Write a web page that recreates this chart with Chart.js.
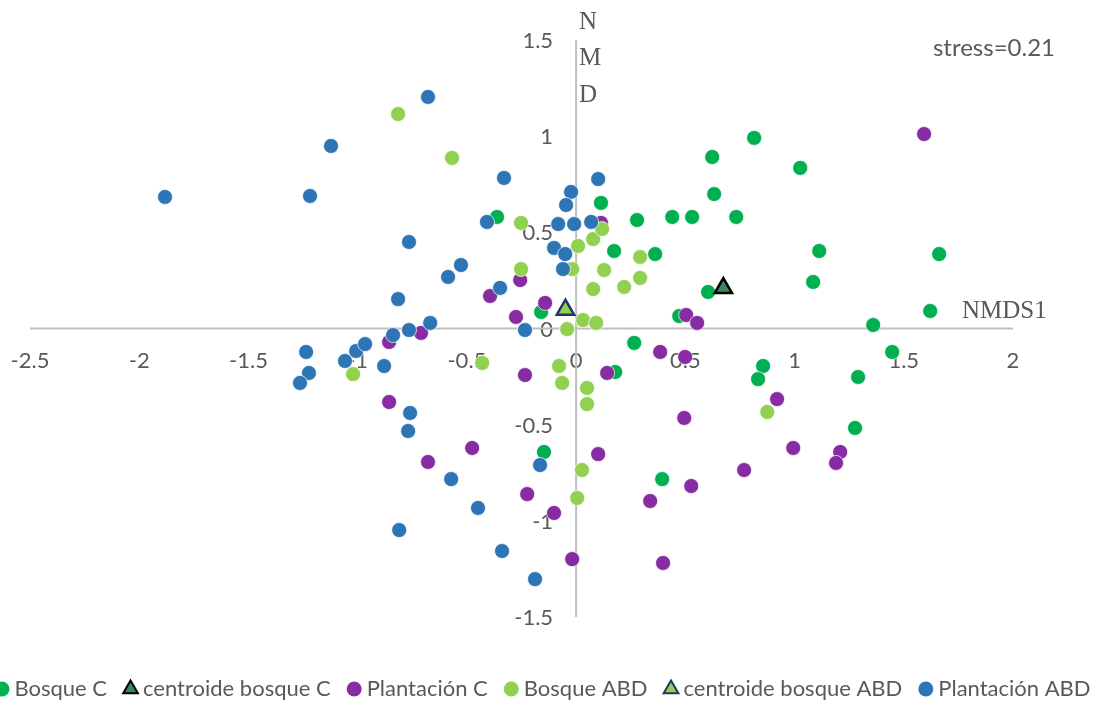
<!DOCTYPE html>
<html>
<head>
<meta charset="utf-8">
<script src="https://cdn.jsdelivr.net/npm/chart.js@4.4.0/dist/chart.umd.min.js"></script>
<style>
  html, body { margin: 0; padding: 0; background: #fff; }
  #wrap { width: 1093px; height: 701px; }
</style>
</head>
<body>
<div id="wrap"><canvas id="nmds"></canvas></div>
<script>
// Datos NMDS [NMDS1, NMDS2]
var bosqueC = [[-0.362,0.580],[-0.160,0.086],[0.114,0.653],[0.815,0.991],[0.623,0.892],[0.632,0.699],
  [0.733,0.580],[0.531,0.580],[0.440,0.580],[0.279,0.564],[0.174,0.403],[0.362,0.387],[0.604,0.190],
  [1.026,0.835],[0.472,0.065],[1.113,0.403],[1.085,0.242],[1.662,0.387],[1.621,0.091],[1.360,0.018],
  [0.266,-0.075],[0.179,-0.226],[-0.147,-0.642],[0.394,-0.783],[1.447,-0.122],[0.856,-0.195],
  [0.833,-0.263],[1.291,-0.252],[1.277,-0.517]];
var centroideC = [[0.674,0.21]];
var plantacionC = [[-0.256,0.252],[-0.394,0.169],[-0.142,0.133],[-0.275,0.060],[-0.710,-0.023],
  [0.114,0.549],[0.504,0.070],[0.554,0.029],[1.593,1.011],[-0.856,-0.070],[-0.856,-0.382],
  [-0.678,-0.694],[-0.476,-0.621],[0.385,-0.122],[0.499,-0.148],[-0.234,-0.242],[0.142,-0.231],
  [0.495,-0.465],[0.101,-0.653],[0.527,-0.819],[0.339,-0.897],[-0.224,-0.861],[-0.101,-0.959],
  [-0.018,-1.199],[0.398,-1.219],[0.920,-0.367],[0.994,-0.621],[1.209,-0.642],[1.190,-0.699],
  [0.769,-0.736]];
var bosqueABD = [[-0.815,1.115],[-0.568,0.887],[-0.252,0.549],[-0.252,0.309],[-0.018,0.309],
  [0.009,0.429],[0.078,0.465],[0.119,0.517],[0.078,0.205],[-0.041,-0.003],[0.032,0.044],
  [0.092,0.029],[0.293,0.372],[0.128,0.304],[0.293,0.263],[0.220,0.216],[-1.021,-0.237],
  [-0.430,-0.179],[-0.078,-0.195],[-0.064,-0.283],[0.050,-0.309],[0.050,-0.393],[0.027,-0.736],
  [0.005,-0.881],[0.875,-0.434]];
var centroideABD = [[-0.049,0.098]];
var plantacionABD = [[-1.882,0.684],[-1.218,0.689],[-1.122,0.949],[-0.678,1.204],[-0.330,0.783],
  [-0.023,0.710],[-0.046,0.642],[-0.408,0.554],[-0.082,0.543],[-0.009,0.543],[0.069,0.554],
  [0.101,0.777],[-0.765,0.450],[-0.101,0.419],[-0.050,0.387],[-0.060,0.309],[-0.527,0.330],
  [-0.586,0.268],[-0.348,0.211],[-0.815,0.153],[-0.668,0.029],[-0.765,-0.008],[-0.838,-0.034],
  [-0.234,-0.008],[-1.236,-0.122],[-1.223,-0.231],[-1.264,-0.283],[-1.058,-0.169],[-1.007,-0.117],
  [-0.966,-0.081],[-0.879,-0.195],[-0.760,-0.439],[-0.769,-0.533],[-0.572,-0.783],[-0.449,-0.933],
  [-0.810,-1.048],[-0.165,-0.710],[-0.339,-1.157],[-0.188,-1.303]];

var xTicks = [-2.5, -2, -1.5, -1, -0.5, 0, 0.5, 1, 1.5, 2];
var yTicks = [-1.5, -1, -0.5, 0, 0.5, 1, 1.5];
var tituloX = 'NMDS1';
var tituloY = ['N', 'M', 'D'];
var textoStress = 'stress=0.21';

function aPuntos(lista) {
  return lista.map(function(p) { return { x: p[0], y: p[1] }; });
}

function serie(label, datos, fondo, borde, anchoBorde, estilo, radio, orden) {
  return {
    label: label,
    data: aPuntos(datos),
    backgroundColor: fondo,
    borderColor: borde,
    borderWidth: anchoBorde,
    pointStyle: estilo,
    pointRadius: radio,
    pointHoverRadius: radio,
    order: orden
  };
}

// Ejes cruzando en 0, etiquetas y titulos
var ejesPlugin = {
  id: 'ejes',
  beforeDatasetsDraw: function(chart) {
    var ctx = chart.ctx, sx = chart.scales.x, sy = chart.scales.y;
    var x0 = sx.getPixelForValue(0), y0 = sy.getPixelForValue(0);
    ctx.save();
    ctx.fillStyle = '#595959';
    ctx.font = '22px Lato';
    ctx.textBaseline = 'middle';
    ctx.textAlign = 'center';
    xTicks.forEach(function(v) { ctx.fillText(String(v), sx.getPixelForValue(v), y0 + 32); });
    ctx.textAlign = 'right';
    yTicks.forEach(function(v) { ctx.fillText(String(v), x0 - 23, sy.getPixelForValue(v) + 1); });

    ctx.strokeStyle = '#BFBFBF';
    ctx.lineWidth = 2;
    ctx.beginPath();
    ctx.moveTo(sx.getPixelForValue(xTicks[0]), y0);
    ctx.lineTo(sx.getPixelForValue(xTicks[xTicks.length - 1]), y0);
    ctx.moveTo(x0, sy.getPixelForValue(yTicks[yTicks.length - 1]));
    ctx.lineTo(x0, sy.getPixelForValue(yTicks[0]));
    ctx.stroke();

    ctx.font = '25px "Liberation Serif"';
    ctx.textAlign = 'left';
    ctx.fillText(tituloX, sx.getPixelForValue(2) - 51, y0 - 17);
    tituloY.forEach(function(letra, i) { ctx.fillText(letra, x0 + 3, 22 + i * 36.5); });

    ctx.font = '24px Lato';
    ctx.textAlign = 'right';
    ctx.fillText(textoStress, 1055, 48);
    ctx.restore();
  }
};

// Leyenda dibujada a mano para que quepa en una sola fila
var leyendaPlugin = {
  id: 'leyenda',
  afterDraw: function(chart) {
    var ctx = chart.ctx;
    var sets = chart.data.datasets;
    ctx.save();
    ctx.font = '22px Lato';
    ctx.textBaseline = 'middle';
    ctx.textAlign = 'left';
    var anchos = sets.map(function(d) { return ctx.measureText(d.label).width; });
    var total = 7.5 + (sets.length - 1) * 23.5;
    anchos.forEach(function(w) { total += 12.5 + w; });
    var cx = (chart.width - total) / 2 + 7.5 - 4;
    var cy = 689;
    sets.forEach(function(d, i) {
      ctx.fillStyle = d.backgroundColor;
      ctx.strokeStyle = d.borderColor;
      ctx.beginPath();
      if (d.pointStyle === 'triangle') {
        var r = 8.5;
        ctx.moveTo(cx, cy - r);
        ctx.lineTo(cx + r * 0.866, cy + r / 2);
        ctx.lineTo(cx - r * 0.866, cy + r / 2);
        ctx.closePath();
        ctx.fill();
        ctx.lineWidth = 2;
        ctx.stroke();
      } else {
        ctx.arc(cx, cy, 7.5, 0, Math.PI * 2);
        ctx.fill();
      }
      ctx.fillStyle = '#595959';
      ctx.fillText(d.label, cx + 12.5, cy);
      cx += 12.5 + anchos[i] + 23.5;
    });
    ctx.restore();
  }
};

var ctxNmds = document.getElementById('nmds').getContext('2d');
var grafico = new Chart(ctxNmds, {
  type: 'scatter',
  data: {
    datasets: [
      serie('Bosque C', bosqueC, '#00B050', 'rgba(255,255,255,0.7)', 1, 'circle', 7.5, 6),
      serie('centroide bosque C', centroideC, '#3B875C', '#000000', 2.5, 'triangle', 10, 5),
      serie('Plantación C', plantacionC, '#872CA2', 'rgba(255,255,255,0.7)', 1, 'circle', 7.5, 4),
      serie('Bosque ABD', bosqueABD, '#92D050', 'rgba(255,255,255,0.7)', 1, 'circle', 7.5, 3),
      serie('centroide bosque ABD', centroideABD, '#92D050', '#1F3864', 2.5, 'triangle', 10, 2),
      serie('Plantación ABD', plantacionABD, '#2E75B6', 'rgba(255,255,255,0.7)', 1, 'circle', 7.5, 1)
    ]
  },
  options: {
    responsive: true,
    maintainAspectRatio: false,
    animation: false,
    layout: { padding: { left: 30, right: 80, top: 40, bottom: 84 } },
    scales: {
      x: { type: 'linear', min: -2.5, max: 2, display: false },
      y: { type: 'linear', min: -1.5, max: 1.5, display: false }
    },
    plugins: {
      legend: { display: false },
      tooltip: { enabled: false }
    }
  },
  plugins: [ejesPlugin, leyendaPlugin]
});
</script>
</body>
</html>
